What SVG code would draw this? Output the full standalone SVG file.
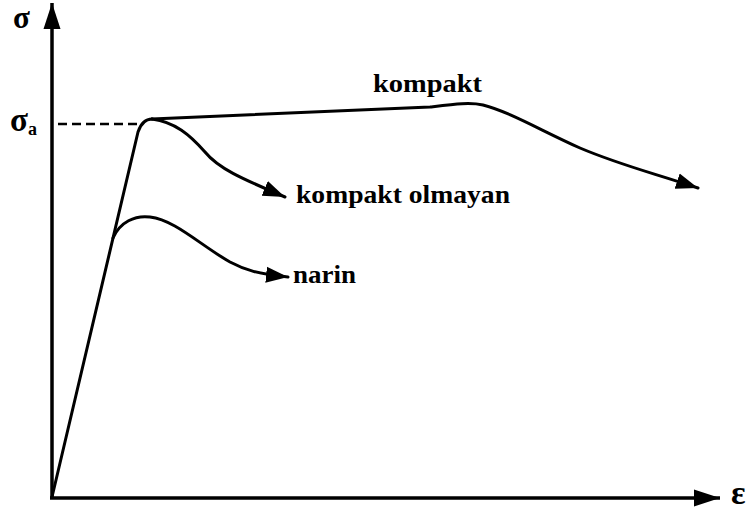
<svg xmlns="http://www.w3.org/2000/svg" width="751" height="512" viewBox="0 0 751 512">
<defs>
<style>
.ax{stroke:#000;stroke-width:3.5;fill:none}
.cv{stroke:#000;stroke-width:3;fill:none;stroke-linecap:round;stroke-linejoin:round}
text{font-family:"Times New Roman","Liberation Serif","DejaVu Serif",serif;font-weight:700;fill:#000}
</style>
<marker id="ah" markerUnits="userSpaceOnUse" markerWidth="24" markerHeight="20" viewBox="0 0 24 20" refX="22" refY="10" orient="auto">
<path d="M0,2 L22,10 L0,18 Z" fill="#000"/>
</marker>
<marker id="axh" markerUnits="userSpaceOnUse" markerWidth="28" markerHeight="20" viewBox="0 0 28 20" refX="26" refY="10" orient="auto">
<path d="M0,1.5 L26,10 L0,18.5 Z" fill="#000"/>
</marker>
</defs>
<rect width="751" height="512" fill="#fff"/>
<g id="axes">
<path class="ax" d="M52,499 L52,3" marker-end="url(#axh)"/>
<path class="ax" d="M50,498 L720,498" marker-end="url(#axh)"/>
</g>
<g id="connectors">
<path d="M58,124 L142,124" stroke="#000" stroke-width="2.5" stroke-dasharray="9,5" fill="none"/>
<path class="cv" d="M52,497 L138,132 C141,123 146,119 152,119"/>
<path class="cv" d="M152,119 L430,107 C455,104 470,102 483,105 C510,112 540,130 580,148 C620,165 650,172 698,188" marker-end="url(#ah)"/>
<path class="cv" d="M152,119 C175,122 190,135 205,152 C218,168 240,178 285,197" marker-end="url(#ah)"/>
<path class="cv" d="M113,238 C120,222 135,215 150,217 C175,220 200,245 230,262 C245,270 258,274 288,277" marker-end="url(#ah)"/>
</g>
<g id="labels">
<text x="13" y="28" font-size="31">σ</text>
<text x="10" y="131" font-size="33">σ<tspan font-size="18" dy="4">a</tspan></text>
<text x="731" y="504" font-size="34">ε</text>
<text x="373" y="92" font-size="26" textLength="109" lengthAdjust="spacingAndGlyphs">kompakt</text>
<text x="296" y="203" font-size="26" textLength="214" lengthAdjust="spacingAndGlyphs">kompakt olmayan</text>
<text x="293" y="283" font-size="26" textLength="63" lengthAdjust="spacingAndGlyphs">narin</text>
</g>
</svg>
